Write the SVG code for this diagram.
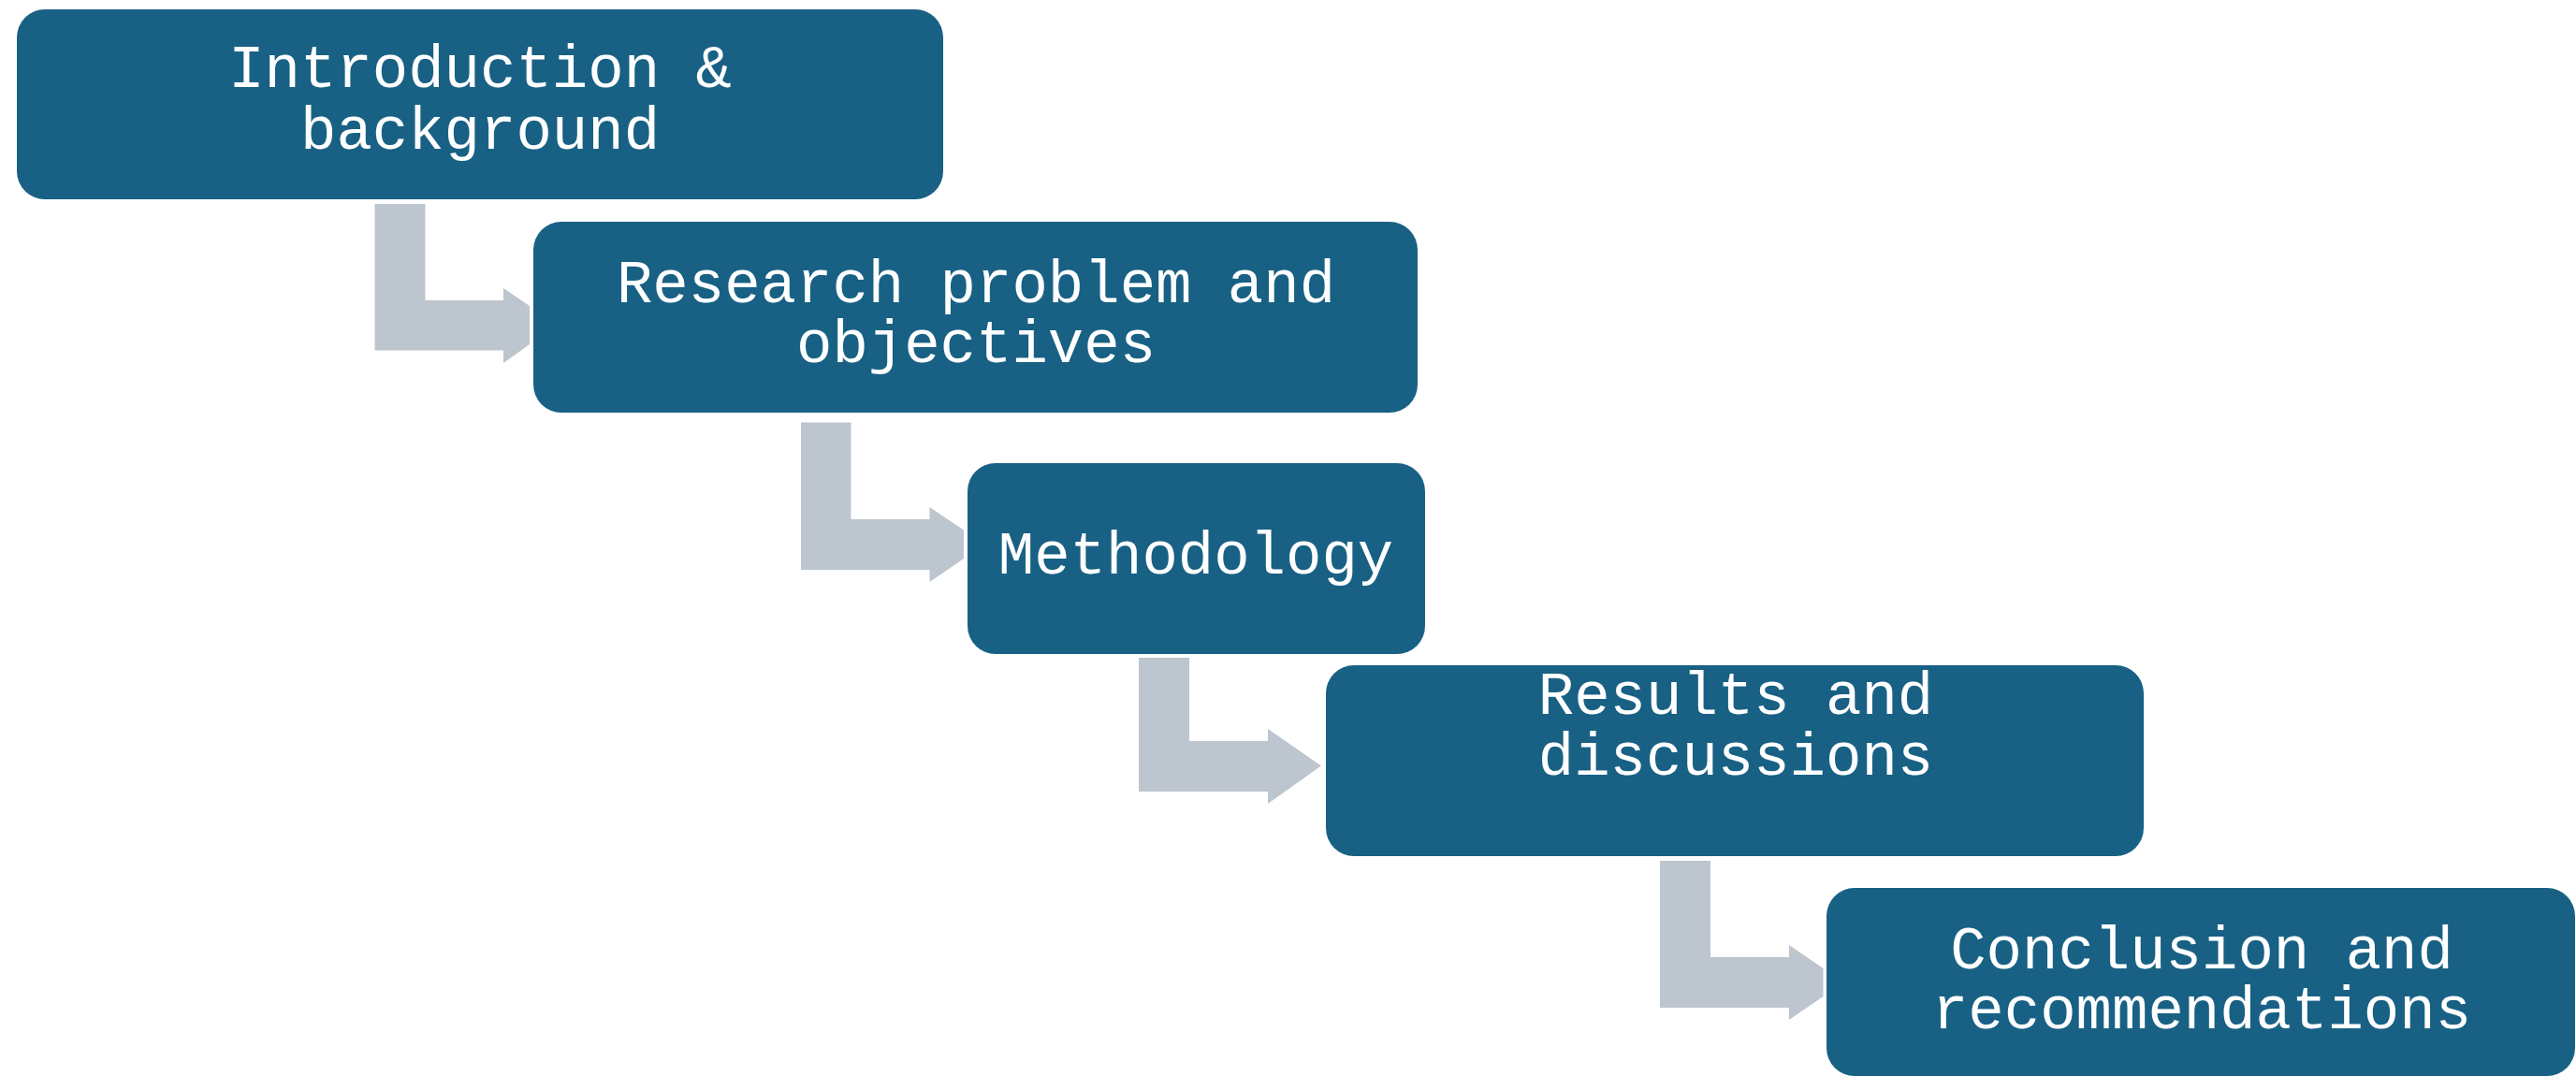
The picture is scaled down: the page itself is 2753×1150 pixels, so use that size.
<svg xmlns="http://www.w3.org/2000/svg" width="2753" height="1150" viewBox="0 0 2753 1150">
<style>
.box{fill:#186184;}
.arrow{fill:#BDC5CE;}
.lbl{font-family:"Liberation Mono","Courier New",monospace;font-size:64px;fill:#ffffff;text-anchor:middle;}
</style>
<rect x="0" y="0" width="2753" height="1150" fill="#ffffff"/>
<g id="connectors">
<polygon class="arrow" points="400.5,218 454.5,218 454.5,321 538,321 538,308 566,327 566,368 538,388 538,374.5 400.5,374.5"/>
<polygon class="arrow" points="856,451.5 909.5,451.5 909.5,555 993.5,555 993.5,542 1030,566.5 1030,597 993.5,622 993.5,609 856,609"/>
<polygon class="arrow" points="1217,703 1271,703 1271,792 1355,792 1355,779 1412,818.5 1355,859 1355,846 1217,846"/>
<polygon class="arrow" points="1774,920 1828,920 1828,1023 1912,1023 1912,1010 1948.5,1035 1948.5,1065 1912,1090 1912,1077 1774,1077"/>
</g>
<g id="node-intro">
<rect class="box" x="18" y="10" width="990" height="203" rx="30" ry="30"/>
<text class="lbl" x="513" y="93">Introduction &amp;</text>
<text class="lbl" x="513" y="159">background</text>
</g>
<g id="node-research">
<rect class="box" x="570" y="237" width="945" height="204" rx="30" ry="30"/>
<text class="lbl" x="1043" y="323">Research problem and</text>
<text class="lbl" x="1043" y="387">objectives</text>
</g>
<g id="node-methodology">
<rect class="box" x="1034" y="495" width="489" height="204" rx="30" ry="30"/>
<text class="lbl" x="1278" y="613">Methodology</text>
</g>
<g id="node-results">
<rect class="box" x="1417" y="711" width="874" height="204" rx="30" ry="30"/>
<text class="lbl" x="1855" y="763">Results and</text>
<text class="lbl" x="1855" y="828">discussions</text>
</g>
<g id="node-conclusion">
<rect class="box" x="1952" y="949" width="800" height="201" rx="30" ry="30"/>
<text class="lbl" x="2353" y="1035">Conclusion and</text>
<text class="lbl" x="2353" y="1099">recommendations</text>
</g>
</svg>
